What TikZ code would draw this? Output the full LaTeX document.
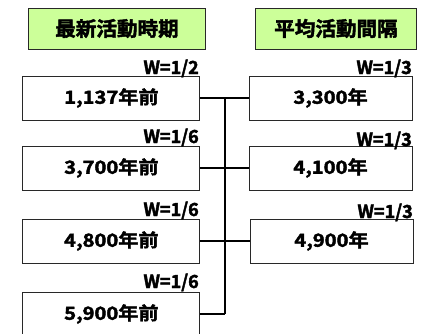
\documentclass[tikz,border=0pt]{standalone}
\usepackage{fontspec}
\newfontfamily\cjk{Noto Sans CJK JP}[UprightFont={* Bold},FakeBold=2.2]
\usepackage{graphicx}
\definecolor{hdrgreen}{RGB}{204,255,153}
\definecolor{edge}{RGB}{40,40,40}
\begin{document}
\begin{tikzpicture}[x=1bp,y=-1bp,
  hdr/.style={draw=edge,line width=1bp,fill=hdrgreen,minimum height=41bp,inner sep=0pt,
    font=\cjk\fontsize{20bp}{22bp}\selectfont},
  lbox/.style={draw=edge,line width=0.9bp,fill=white,minimum width=177bp,minimum height=44bp,inner sep=0pt,
    font=\cjk\fontsize{18bp}{20bp}\selectfont},
  rbox/.style={lbox,minimum width=163bp},
  wlab/.style={anchor=base east,inner sep=0pt,font=\cjk\fontsize{18bp}{20bp}\selectfont},
  conn/.style={line width=1.8bp,black}]
\useasboundingbox (0,0) rectangle (421,334);
\node[hdr,minimum width=176bp] (h1) at (117,28.5) {\scalebox{1.03}[1]{最新活動時期}};
\node[hdr,minimum width=160bp] (h2) at (336,28.5) {\scalebox{1.03}[1]{平均活動間隔}};
% left boxes
\node[lbox] (l1) at (111.4,98) {\scalebox{1.12}[1]{1,137年前}};
\node[lbox] (l2) at (111.4,168) {\scalebox{1.12}[1]{3,700年前}};
\node[lbox] (l3) at (111.4,241) {\scalebox{1.12}[1]{4,800年前}};
\node[lbox] (l4) at (111.4,314) {\scalebox{1.12}[1]{5,900年前}};
% right boxes
\node[rbox] (r1) at (330.5,98) {\scalebox{1.12}[1]{3,300年}};
\node[rbox] (r2) at (330.5,168) {\scalebox{1.12}[1]{4,100年}};
\node[rbox] (r3) at (331.5,241) {\scalebox{1.12}[1]{4,900年}};
% weights
\node[wlab] (w1) at (199,74) {W=1/2};
\node[wlab] (w2) at (199,143) {W=1/6};
\node[wlab] (w3) at (199,216) {W=1/6};
\node[wlab] (w4) at (199,288) {W=1/6};
\node[wlab] (w5) at (412,74) {W=1/3};
\node[wlab] (w6) at (412,146) {W=1/3};
\node[wlab] (w7) at (413,218) {W=1/3};
% junction
\coordinate (j1) at (225,98);
\coordinate (j2) at (225,168);
\coordinate (j3) at (225,241);
\coordinate (j4) at (225,314);
\draw[conn] (j1) -- (j4);
\draw[conn] (l1.east) -- (j1) -- (r1.west);
\draw[conn] (l2.east) -- (j2) -- (r2.west);
\draw[conn] (l3.east) -- (j3) -- (r3.west);
\draw[conn] (l4.east) -- (j4);
\end{tikzpicture}
\end{document}
